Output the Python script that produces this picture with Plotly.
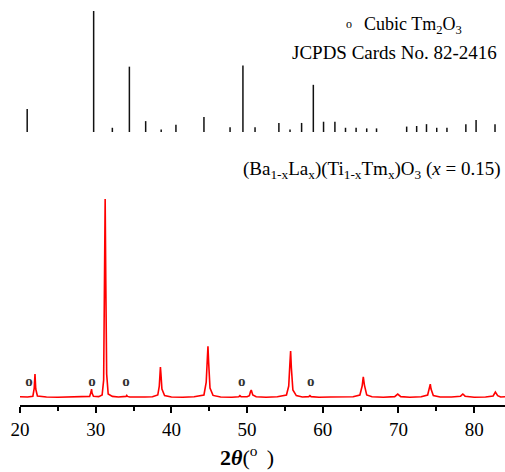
import plotly.graph_objects as go

# Reference stick pattern: cubic Tm2O3 (JCPDS 82-2416), 2θ (deg) and relative intensity (%)
ref_2theta = [20.95, 29.73, 32.2, 34.45, 36.6, 38.65, 40.6, 44.3, 47.75, 49.45, 51.05,
              54.2, 55.67, 57.2, 58.75, 60.1, 61.6, 63.0, 64.4, 65.8, 67.1,
              71.08, 72.4, 73.7, 75.05, 76.4, 78.9, 80.25, 82.75]
ref_intensity = [19, 100, 3.5, 54, 9, 2, 6, 12.5, 4, 55, 4,
                 7.5, 2, 7.5, 39, 8.5, 8.5, 3.5, 3.5, 3, 3,
                 4.5, 5, 6.5, 3.5, 3.5, 6.5, 10, 6.5]

# Measured pattern of (Ba1-xLax)(Ti1-xTmx)O3, x = 0.15 (normalised intensity, %)
meas_2theta = [20.0, 21.0, 21.7, 21.88, 21.98, 22.08, 22.3, 23.5, 25.0, 26.5, 28.0,
               29.2, 29.38, 29.45, 29.52, 29.7, 30.4, 30.85, 31.05, 31.17, 31.25,
               31.33, 31.45, 31.65, 32.2, 33.0, 33.8, 34.0, 34.1, 34.2, 34.5,
               35.5, 36.5, 37.5, 38.2, 38.4, 38.5, 38.55, 38.62, 38.75, 39.1,
               40.0, 41.5, 43.0, 44.3, 44.6, 44.75, 44.83, 44.92, 45.1, 45.5,
               46.5, 48.0, 48.9, 49.05, 49.2, 50.0, 50.3, 50.45, 50.55, 50.75,
               51.2, 52.5, 54.0, 55.2, 55.5, 55.65, 55.75, 55.85, 56.05, 56.5,
               57.3, 58.15, 58.3, 58.45, 59.5, 61.0, 62.5, 64.0, 64.9, 65.2,
               65.35, 65.5, 65.8, 66.5, 68.0, 69.5, 69.9, 70.3, 71.5, 73.0,
               73.85, 74.1, 74.2, 74.3, 74.6, 75.5, 77.0, 78.2, 78.5, 78.8,
               80.0, 81.5, 82.5, 82.8, 83.1, 83.5, 84.07]
meas_intensity = [0.6, 0.5, 0.9, 5.0, 12.0, 4.5, 1.0, 0.5, 0.4, 0.5, 0.4,
                  0.8, 3.0, 4.5, 2.5, 0.9, 0.7, 1.5, 9.0, 55.0, 100.0,
                  60.0, 12.0, 2.0, 0.8, 0.5, 0.5, 0.8, 1.3, 0.8, 0.5,
                  0.4, 0.5, 0.6, 1.5, 6.0, 13.0, 15.6, 12.0, 4.5, 1.2,
                  0.5, 0.4, 0.6, 1.5, 8.0, 20.0, 26.0, 18.0, 5.0, 1.3,
                  0.5, 0.4, 0.6, 1.2, 0.7, 0.6, 1.2, 3.2, 4.0, 1.5,
                  0.6, 0.4, 0.6, 1.5, 6.0, 17.0, 23.6, 15.0, 4.0, 1.2,
                  0.5, 0.7, 1.2, 0.7, 0.4, 0.5, 0.4, 0.6, 1.5, 6.0,
                  10.6, 6.5, 1.5, 0.6, 0.4, 0.7, 2.0, 0.7, 0.4, 0.6,
                  1.5, 5.0, 7.0, 4.5, 1.2, 0.5, 0.5, 0.9, 2.0, 0.9,
                  0.4, 0.5, 1.0, 3.0, 1.2, 0.5, 0.6]

# Tm2O3 impurity reflections seen in the measured pattern
marker_2theta = [21.2, 29.5, 34.0, 49.3, 58.4]
marker_level = [8, 8, 8, 8, 8]

x_ticks = [20, 30, 40, 50, 60, 70, 80]

SERIF = "Liberation Serif"

# stick segments (vertical lines from 0 to intensity)
stick_x, stick_y = [], []
for t, i in zip(ref_2theta, ref_intensity):
    stick_x += [t, t, None]
    stick_y += [0, i, None]

fig = go.Figure()
fig.add_trace(go.Scatter(
    x=meas_2theta, y=meas_intensity, mode="lines",
    line=dict(color="#ff0000", width=1.6), yaxis="y", showlegend=False,
    hoverinfo="skip"))
fig.add_trace(go.Scatter(
    x=stick_x, y=stick_y, mode="lines",
    line=dict(color="#111111", width=1.5), yaxis="y2", showlegend=False,
    hoverinfo="skip"))
fig.add_trace(go.Scatter(
    x=marker_2theta, y=marker_level, mode="text",
    text=["<b>o</b>"] * len(marker_2theta),
    textfont=dict(family=SERIF, size=15, color="#333333"), yaxis="y",
    showlegend=False, hoverinfo="skip"))

PLOT_H = 405.0
PLOT_W = 485.0


def py(pix):
    return (PLOT_H - pix) / PLOT_H


def px(pix):
    return (pix - 20) / PLOT_W


annotations = [
    dict(text="o", x=px(349), y=py(24), xanchor="center", yanchor="middle",
         font=dict(family=SERIF, size=12, color="#000")),
    dict(text="Cubic Tm<sub>2</sub>O<sub>3</sub>", x=px(464), y=py(25), xanchor="right",
         yanchor="middle", font=dict(family=SERIF, size=18, color="#000")),
    dict(text="JCPDS Cards No. 82-2416", x=px(499), y=py(52), xanchor="right",
         yanchor="middle", font=dict(family=SERIF, size=19, color="#000")),
    dict(text="(Ba<sub>1-x</sub>La<sub>x</sub>)(Ti<sub>1-x</sub>Tm<sub>x</sub>)O<sub>3</sub> (<i>x</i> = 0.15)",
         x=px(503), y=py(170), xanchor="right", yanchor="middle",
         font=dict(family=SERIF, size=19, color="#000")),
    # axis title
    dict(text="<b>2<i>θ</i></b>(<sup>o </sup> )", x=px(247), y=py(456),
         xanchor="center", yanchor="middle",
         font=dict(family=SERIF, size=22, color="#000")),
]
for a in annotations:
    a.update(xref="paper", yref="paper", showarrow=False)

fig.update_layout(
    width=505, height=472,
    margin=dict(l=20, r=0, t=0, b=67),
    paper_bgcolor="white", plot_bgcolor="white",
    font=dict(family=SERIF),
    xaxis=dict(
        range=[20, 84.07], tickmode="array", tickvals=x_ticks,
        ticks="outside", ticklen=6, tickwidth=1.5, tickcolor="#000",
        minor=dict(dtick=5, tick0=0, ticks="outside", ticklen=4, tickwidth=1.5, tickcolor="#000"),
        showline=True, linecolor="#000", linewidth=1.8, showgrid=False, zeroline=False,
        tickfont=dict(family=SERIF, size=19, color="#000"),
    ),
    yaxis=dict(range=[-3.52, 200.0], visible=False, fixedrange=True),
    yaxis2=dict(range=[-225.6, 109.1], visible=False, overlaying="y", fixedrange=True),
    annotations=annotations,
)

fig.write_html("out.html")
